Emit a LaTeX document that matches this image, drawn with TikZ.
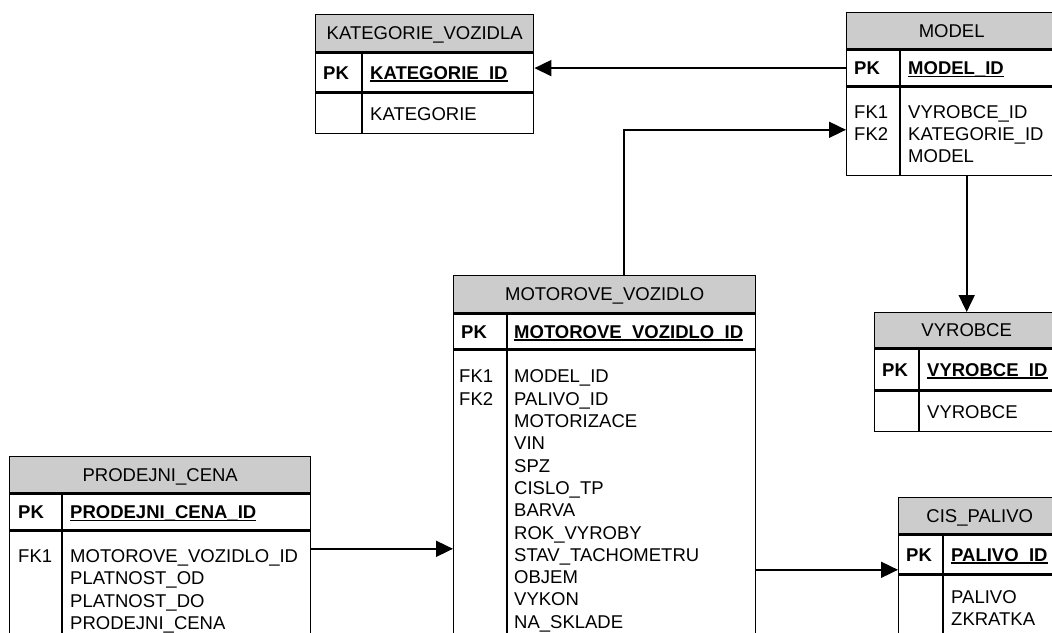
\documentclass[tikz,border=0pt]{standalone}
\usepackage{fontspec}
\setmainfont{Liberation Sans}
\usetikzlibrary{arrows.meta}
\newcommand{\tabfont}{\fontsize{18.5}{22.3}\selectfont}
\tikzset{
  tbl/.style={draw, line width=1.4pt, inner sep=0pt, anchor=north west},
  hdr/.style={tbl, fill=gray!40, font=\tabfont, text height=13.25pt, text depth=0pt},
  sep/.style={line width=1.4pt},
  txt/.style={font=\tabfont, inner sep=0pt, text height=13.25pt, text depth=0pt, anchor=west},
  keytxt/.style={txt, font=\tabfont\bfseries},
  attr/.style={font=\tabfont, align=left, inner sep=0pt, anchor=north west},
  uline/.style={line width=1.7pt},
  fk/.style={line width=1.8pt, -{Triangle[length=17pt,width=16pt]}},
}
\begin{document}
\begin{tikzpicture}[x=1pt,y=-1pt]
	\useasboundingbox (0,0) rectangle (1052,632);
	\clip (0,0) rectangle (1052,632);
	% KATEGORIE_VOZIDLA
	\node[hdr, minimum width=218, minimum height=37] (katH) at (315,14) {KATEGORIE\_VOZIDLA};
	\node[tbl, minimum width=218, minimum height=39] (katPK) at (katH.south west) {};
	\node[tbl, minimum width=218, minimum height=40] (katA) at (katPK.south west) {};
	\draw[sep] ([xshift=47pt]katPK.north west) -- ([xshift=47pt]katA.south west);
	\node[keytxt] (katK) at ([xshift=8pt]katPK.west) {PK};
	\node[keytxt] (katF) at ([xshift=55pt]katPK.west) {KATEGORIE\_ID};
	\draw[uline] ([yshift=-1.5pt]katF.south west) -- ([yshift=-1.5pt]katF.south east);
	\node[txt] (katL) at ([xshift=55pt]katA.west) {KATEGORIE};
	% MODEL
	\node[hdr, minimum width=210, minimum height=36] (modH) at (846,12) {MODEL};
	\node[tbl, minimum width=210, minimum height=36] (modPK) at (modH.south west) {};
	\node[tbl, minimum width=210, minimum height=88] (modA) at (modPK.south west) {};
	\draw[sep] ([xshift=54pt]modPK.north west) -- ([xshift=54pt]modA.south west);
	\node[keytxt] (modK) at ([xshift=8pt]modPK.west) {PK};
	\node[keytxt] (modF) at ([xshift=62pt]modPK.west) {MODEL\_ID};
	\draw[uline] ([yshift=-1.5pt]modF.south west) -- ([yshift=-1.5pt]modF.south east);
	\node[attr] (modFK) at ([xshift=8pt,yshift=-18.4pt]modA.north west) {FK1\\FK2};
	\node[attr] (modL) at ([xshift=62pt,yshift=-18.4pt]modA.north west) {VYROBCE\_ID\\KATEGORIE\_ID\\MODEL};
	% MOTOROVE_VOZIDLO
	\node[hdr, minimum width=302, minimum height=37] (motH) at (453,275) {MOTOROVE\_VOZIDLO};
	\node[tbl, minimum width=302, minimum height=35] (motPK) at (motH.south west) {};
	\node[tbl, minimum width=302, minimum height=300] (motA) at (motPK.south west) {};
	\draw[sep] ([xshift=54pt]motPK.north west) -- ([xshift=54pt]motA.south west);
	\node[keytxt] (motK) at ([xshift=8pt]motPK.west) {PK};
	\node[keytxt] (motF) at ([xshift=61pt]motPK.west) {MOTOROVE\_VOZIDLO\_ID};
	\draw[uline] ([yshift=-1.5pt]motF.south west) -- ([yshift=-1.5pt]motF.south east);
	\node[attr] (motFK) at ([xshift=6pt,yshift=-20pt]motA.north west) {FK1\\FK2};
	\node[attr] (motL) at ([xshift=61pt,yshift=-20pt]motA.north west) {MODEL\_ID\\PALIVO\_ID\\MOTORIZACE\\VIN\\SPZ\\CISLO\_TP\\BARVA\\ROK\_VYROBY\\STAV\_TACHOMETRU\\OBJEM\\VYKON\\NA\_SKLADE};
	% VYROBCE
	\node[hdr, minimum width=184, minimum height=35] (vyrH) at (874,312) {VYROBCE};
	\node[tbl, minimum width=184, minimum height=41] (vyrPK) at (vyrH.south west) {};
	\node[tbl, minimum width=184, minimum height=40] (vyrA) at (vyrPK.south west) {};
	\draw[sep] ([xshift=45pt]vyrPK.north west) -- ([xshift=45pt]vyrA.south west);
	\node[keytxt] (vyrK) at ([xshift=8pt]vyrPK.west) {PK};
	\node[keytxt] (vyrF) at ([xshift=53pt]vyrPK.west) {VYROBCE\_ID};
	\draw[uline] ([yshift=-1.5pt]vyrF.south west) -- ([yshift=-1.5pt]vyrF.south east);
	\node[txt] (vyrL) at ([xshift=53pt]vyrA.west) {VYROBCE};
	% PRODEJNI_CENA
	\node[hdr, minimum width=301, minimum height=36] (proH) at (9,456) {PRODEJNI\_CENA};
	\node[tbl, minimum width=301, minimum height=36] (proPK) at (proH.south west) {};
	\node[tbl, minimum width=301, minimum height=120] (proA) at (proPK.south west) {};
	\draw[sep] ([xshift=53pt]proPK.north west) -- ([xshift=53pt]proA.south west);
	\node[keytxt] (proK) at ([xshift=9pt]proPK.west) {PK};
	\node[keytxt] (proF) at ([xshift=61pt]proPK.west) {PRODEJNI\_CENA\_ID};
	\draw[uline] ([yshift=-1.5pt]proF.south west) -- ([yshift=-1.5pt]proF.south east);
	\node[attr] (proFK) at ([xshift=9pt,yshift=-18.7pt]proA.north west) {FK1};
	\node[attr] (proL) at ([xshift=61pt,yshift=-18.7pt]proA.north west) {MOTOROVE\_VOZIDLO\_ID\\PLATNOST\_OD\\PLATNOST\_DO\\PRODEJNI\_CENA};
	% CIS_PALIVO
	\node[hdr, minimum width=162, minimum height=36] (cisH) at (898,497) {CIS\_PALIVO};
	\node[tbl, minimum width=162, minimum height=39] (cisPK) at (cisH.south west) {};
	\node[tbl, minimum width=162, minimum height=80] (cisA) at (cisPK.south west) {};
	\draw[sep] ([xshift=45pt]cisPK.north west) -- ([xshift=45pt]cisA.south west);
	\node[keytxt] (cisK) at ([xshift=8pt]cisPK.west) {PK};
	\node[keytxt] (cisF) at ([xshift=53pt]cisPK.west) {PALIVO\_ID};
	\draw[uline] ([yshift=-1.5pt]cisF.south west) -- ([yshift=-1.5pt]cisF.south east);
	\node[attr] (cisL) at ([xshift=53pt,yshift=-15.7pt]cisA.north west) {PALIVO\\ZKRATKA};
	% relations
	\coordinate (modIn) at ([yshift=-43pt]modA.north west);
	\coordinate (proOut) at ([yshift=-18pt]proA.north east);
	\coordinate (cisIn) at ([yshift=5pt]cisPK.south west);
	\draw[fk] (modPK.west) -- (modPK.west -| katPK.east);
	\draw[fk] ([xshift=19pt]motH.north) |- (modIn);
	\draw[fk] (modA.south -| vyrH.north) -- (vyrH.north);
	\draw[fk] (proOut) -- (proOut -| motA.west);
	\draw[fk] (cisIn -| motA.east) -- (cisIn);
\end{tikzpicture}
\end{document}
